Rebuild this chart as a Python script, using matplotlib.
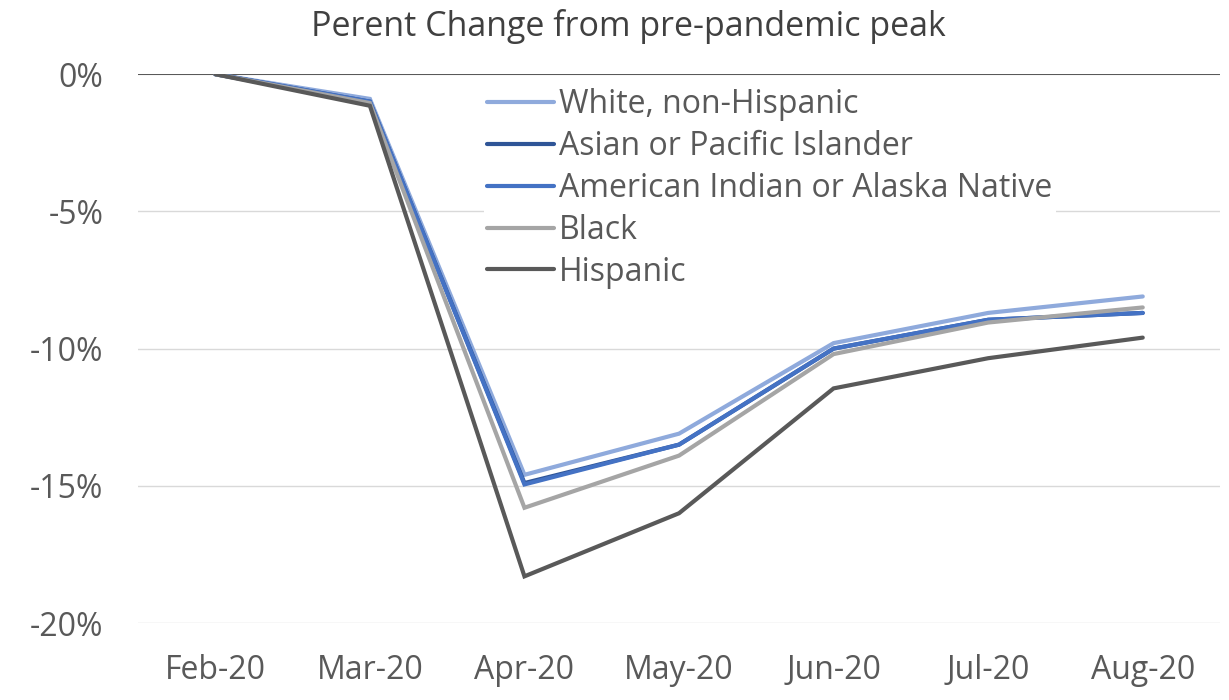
import numpy as np
import matplotlib.pyplot as plt

plt.rcParams['font.family'] = ['Open Sans', 'DejaVu Sans']

months = ['Feb-20', 'Mar-20', 'Apr-20', 'May-20', 'Jun-20', 'Jul-20', 'Aug-20']

white = [0.0, -0.9, -14.6, -13.1, -9.8, -8.7, -8.1]
asian = [0.0, -1.0, -14.9, -13.5, -10.0, -8.95, -8.7]
am_indian = [0.0, -1.0, -14.95, -13.5, -10.0, -8.95, -8.7]
black = [0.0, -1.05, -15.8, -13.9, -10.2, -9.05, -8.5]
hispanic = [0.0, -1.15, -18.3, -16.0, -11.45, -10.35, -9.6]

series = [
    ('White, non-Hispanic', white, '#8FAADC'),
    ('Asian or Pacific Islander', asian, '#2F5597'),
    ('American Indian or Alaska Native', am_indian, '#4472C4'),
    ('Black', black, '#A5A5A5'),
    ('Hispanic', hispanic, '#595959'),
]

y_ticks = [0, -5, -10, -15, -20]

fig = plt.figure(figsize=(12.29, 7), dpi=100)
ax = fig.add_axes([0.1123, 0.11, 0.8804, 0.784])

x = np.arange(len(months))
for name, vals, col in series:
    ax.plot(x, vals, color=col, lw=3, label=name, solid_capstyle='round',
            solid_joinstyle='miter', zorder=3)

ax.set_xlim(-0.5, len(months) - 0.5)
ax.set_ylim(-20, 0)
ax.set_yticks(y_ticks)
ax.set_yticklabels([f'{t}%' for t in y_ticks])
ax.set_xticks(x)
ax.set_xticklabels(months)
ax.tick_params(axis='y', length=0, pad=25, labelsize=23, labelcolor='#595959')
ax.tick_params(axis='x', length=0, pad=22, labelsize=23, labelcolor='#595959')

for t in y_ticks[1:]:
    ax.axhline(t, color='#D9D9D9', lw=1, zorder=1)
ax.axhline(0, color='#595959', lw=1.5, zorder=2)

for s in ax.spines.values():
    s.set_visible(False)

fig.text(0.511, 0.962, 'Perent Change from pre-pandemic peak', fontsize=24.5,
         color='#404040', ha='center', va='center')

leg = ax.legend(loc='upper left', bbox_to_anchor=(0.305, 1.01), frameon=True,
                fontsize=23, handlelength=2.1, handletextpad=0.15,
                labelspacing=0.28, borderpad=0.1)
leg.get_frame().set_facecolor('white')
leg.get_frame().set_edgecolor('none')
leg.get_frame().set_alpha(1)
for txt in leg.get_texts():
    txt.set_color('#595959')

fig.savefig('out.png', dpi=100)
